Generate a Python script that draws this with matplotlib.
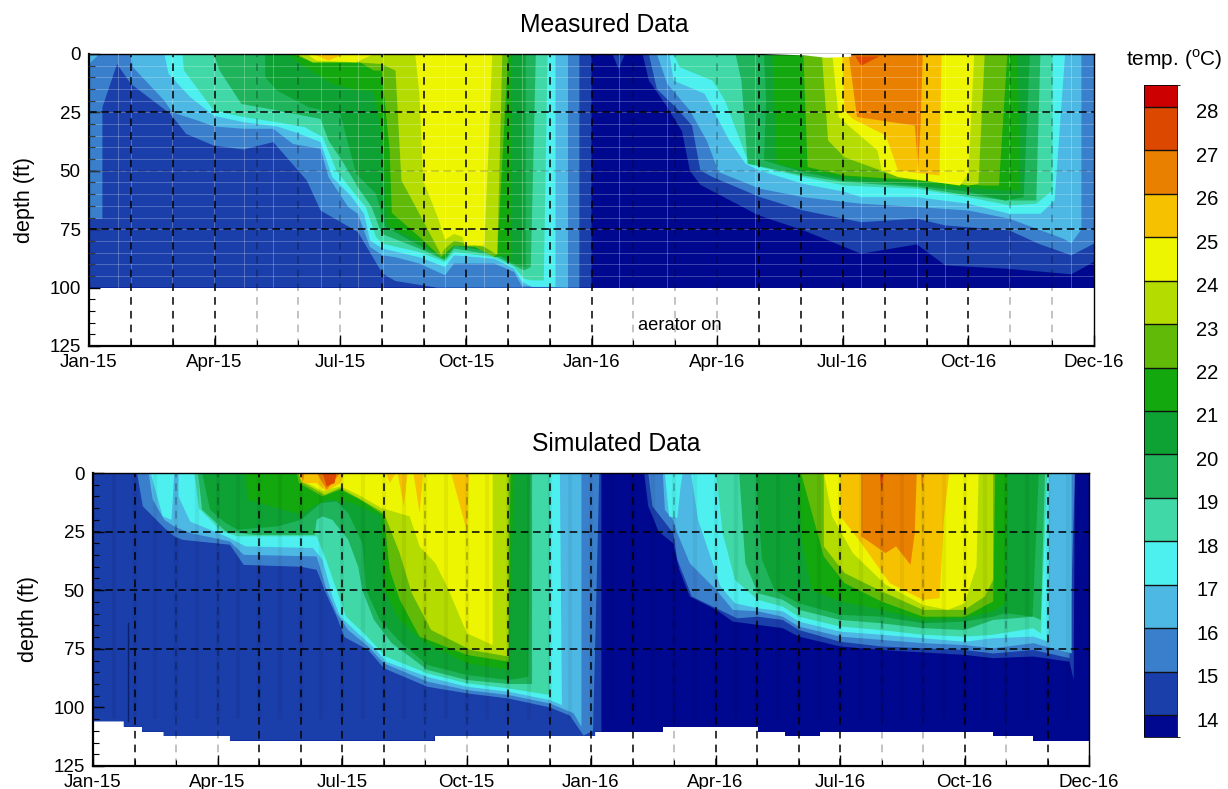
import numpy as np
import matplotlib
matplotlib.use("Agg")
import matplotlib.pyplot as plt
from matplotlib.colors import ListedColormap, BoundaryNorm
from matplotlib.cm import ScalarMappable
from matplotlib.ticker import MultipleLocator
from matplotlib.transforms import ScaledTranslation

plt.rcParams['font.family'] = ['Liberation Sans', 'DejaVu Sans']
plt.rcParams['mathtext.fontset'] = 'custom'
plt.rcParams['mathtext.rm'] = 'Liberation Sans'

tick_pos = [0, 3, 6, 9, 12, 15, 18, 21, 24]
tick_labels = ['Jan-15', 'Apr-15', 'Jul-15', 'Oct-15', 'Jan-16', 'Apr-16', 'Jul-16', 'Oct-16', 'Dec-16']
levels = list(range(14, 29))
band_colors = ['#00088f', '#1a3eaa', '#3a7fcc', '#4db8e4', '#4df0ee', '#3fd8a6', '#1fb35c', '#0ea235',
               '#12a80e', '#62ba08', '#b4dc00', '#eef500', '#f6c200', '#ea8000', '#dd4800', '#cc0000']

# isotherm outlines: time in months since Jan-15, depth in ft
m14_t = [0, 0, 12, 12, 12.5, 12.65, 12.8, 13.22, 13.37, 13.76, 14.16, 14.35, 14.6, 15.98, 17.06, 18.44, 19.77, 20.45, 21.98, 23.46, 24, 24]
m14_d = [0, 100, 100, 0, 0, 6.5, 0, 0, 11.4, 21.4, 33, 50, 56, 69, 75.5, 85.5, 81.5, 90.5, 92, 94.3, 89, 0]
m15_t = [0, 0, .32, .32, .67, 1, 1.94, 2.32, 2.98, 3.69, 4.4, 5.2, 5.53, 6.42, 7.01, 7.32, 8.31, 11.71, 11.71,
         13.37, 13.56, 14.01, 14.4, 14.6, 14.89, 16.03, 17.06, 18.44, 19.77, 20.45, 21.98, 22.67, 23.46, 24, 24]
m15_d = [0, 70.5, 70.5, 22.8, 4.3, 12.8, 25.6, 34.2, 39.2, 40.9, 37.7, 54.1, 67, 76.2, 94, 97.2, 100, 100, 0,
         0, 15, 22.8, 30.6, 49.9, 52.7, 61.3, 67, 72, 70.5, 73.4, 75.5, 81.2, 86.2, 81.2, 0]
m16_t = [0, 0, .25, 1, 1.05, 1.8, 1.99, 2.6, 2.98, 3.69, 4.4, 4.87, 5.53, 5.72, 6.19, 6.42, 6.71, 7.01, 7.32, 7.89, 8.5, 8.72, 9.68, 10.15, 10.34, 11.44, 11.44,
         13.56, 13.81, 14.35, 14.75, 15.04, 16.03, 17.06, 18.44, 19.77, 21, 21.98, 23.26, 23.46, 23.7, 23.7]
m16_d = [0, 4.3, 0, 0, 5.7, 20, 25, 28.5, 31, 32, 32, 38.5, 40.6, 52.7, 65.5, 68.4, 82.6, 86.2, 87, 89.7, 94.7, 89.7, 89.7, 93.3, 99.4, 100, 0,
         0, 12.8, 24.2, 37, 50.6, 57.7, 61.3, 64.1, 65.5, 67, 70.5, 79, 81, 75, 0]
m17_t = [1.8, 1.9, 2.42, 2.98, 3.69, 4.49, 4.92, 5.53, 5.81, 6.24, 6.57, 6.71, 7.01, 7.89, 8.5, 8.72, 9.68, 10.15, 10.34, 10.58, 11.14, 11.14,
         13.86, 13.96, 14.7, 15.29, 15.68, 16.03, 17.06, 18.04, 18.44, 19.77, 21, 21.98, 22.72, 23.06, 23.31]
m17_d = [0, 8.5, 18.5, 26.4, 29.2, 31, 33.5, 37.7, 52.7, 60.5, 68.4, 79.8, 83.3, 87, 91.2, 86.2, 87.6, 91.9, 97.6, 99.7, 99.7, 0,
         0, 11.4, 17, 37, 47, 50, 55.6, 59, 61.3, 61.3, 64.1, 68.4, 68.4, 62.7, 0]
m18_t = [2.23, 2.27, 2.98, 3.69, 4.49, 5.15, 5.58, 5.91, 6.28, 6.61, 6.85, 7.01, 7.89, 8.5, 8.72, 9.68, 10.15, 10.39, 10.58, 10.86, 10.95,
         13.96, 14.11, 14.89, 15.19, 15.73, 16.03, 17.06, 18.04, 19.77, 21, 21.98, 22.62, 23.01, 23.01]
m18_d = [0, 7.1, 24.2, 27, 29.2, 31.3, 35.6, 49.9, 58.4, 65.5, 78.3, 81.2, 84.8, 89, 84.8, 87, 91.2, 96.2, 96.9, 96.9, 0,
         0, 5.7, 11.4, 20, 45.6, 48.4, 52.7, 56.3, 57.7, 61.3, 64.8, 64.1, 58.4, 0]
m19_t = [2.98, 3.12, 3.64, 4.3, 5.53, 5.72, 6.09, 6.42, 6.75, 6.99, 7.89, 8.5, 8.72, 9.68, 10.15, 10.39, 10.55, 10.67,
         15.44, 15.58, 15.73, 17.06, 18.04, 19.77, 21, 21.88, 22.62, 22.72]
m19_d = [0, 7.1, 21.4, 23.5, 27.8, 37, 47, 57, 65.5, 77, 83.3, 88.3, 83.3, 86.2, 90.5, 92.6, 91.2, 0,
         0, 11.4, 47, 52, 54.8, 57, 60.5, 62.7, 62.7, 0]
m20_t = [4.21, 4.21, 4.49, 5.25, 6, 6.19, 6.38, 6.85, 7.08, 7.89, 8.5, 8.72, 9.68, 10.15, 10.43, 10.43,
         16.12, 16.17, 16.12, 17.06, 18.04, 19.77, 21, 21.88, 22.32, 22.47]
m20_d = [0, 10, 15.7, 22.8, 25.6, 38.5, 51.3, 59.8, 74, 82, 87.6, 82, 85, 90, 91.2, 0,
         0, 20, 45.6, 50.6, 54.1, 56.3, 59, 62.7, 61.3, 0]
m21_t = [4.77, 5.06, 5.81, 6.42, 6.8, 6.99, 7.08, 7.13, 7.89, 8.45, 8.72, 9.44, 9.68, 10.01, 10.1, 10.1,
         16.32, 16.42, 17.06, 18.04, 19.77, 20.36, 21.78, 22.23, 22.18]
m21_d = [0, 4.3, 12.8, 15.7, 15.7, 34.2, 61, 73.4, 80.5, 87.6, 82, 82.6, 87, 86, 90, 0,
         0, 47, 49.9, 52.7, 54.8, 56.3, 58.4, 58.4, 0]
m22_t = [4.87, 5.34, 6.42, 6.8, 6.99, 7.18, 7.23, 7.89, 8.41, 8.72, 9.21, 9.68, 9.75, 10.01,
         17.06, 17.16, 18.04, 19.77, 21.34, 21.73, 21.93]
m22_d = [0, 3.6, 3, 7.1, 7.1, 41.3, 68, 78.3, 87, 82, 82.6, 87, 85, 0,
         0, 48.4, 52, 54.1, 56.3, 56.3, 0]
m23_t = [4.96, 5.34, 6.42, 6.99, 7.32, 7.46, 7.89, 8.41, 8.5, 8.72, 9.44, 9.75, 9.87,
         17.5, 17.65, 18.04, 18.93, 21, 21.24, 21.39]
m23_d = [0, 3.6, 3.6, 4.3, 7.1, 54.1, 68.4, 86, 83.3, 80, 82.6, 86, 0,
         0, 37, 44.2, 50, 56.3, 55.6, 0]
m24_t = [5.2, 5.43, 6.38, 6.8, 7.79, 7.89, 7.98, 8.34, 8.5, 8.72, 8.92, 8.97, 9.44, 9.54, 9.63,
         17.75, 17.9, 18.83, 18.93, 19.32, 20.8, 21, 21.14]
m24_d = [0, 2.8, 3.6, 0, 0, 17, 54.1, 70.5, 79.5, 77, 78.3, 82, 82, 41.3, 0,
         0, 27, 41.3, 49.9, 52.7, 56.3, 51.3, 0]
m25_t = [5.34, 5.72, 6.09, 17.99, 18.04, 18.24, 19.03, 19.32, 20.31, 20.36]
m25_d = [0, 2.8, 0, 0, 24.2, 27.8, 34.9, 49.9, 52, 0]
m26_t = [18.14, 18.34, 19.72, 19.8, 19.86, 19.91]
m26_d = [0, 27, 30.6, 48.4, 30, 0]
m27_t = [18.3, 18.44, 18.88]
m27_d = [1, 5, 1]
notch_t = [16.1, 17.1, 17.6, 18.2, 18.2]
notch_d = [0, .6, 1.6, 1.2, 0]

s_bottom_t = [0, .74, .74, 1.18, 1.18, 1.7, 1.7, 3.3, 3.3, 8.23, 8.23, 12.1, 12.1, 13.73, 13.73, 16.02, 16.02, 16.67, 16.67, 17.51, 17.51, 21.69, 21.69, 22.66, 22.66, 24]
s_bottom_d = [106, 106, 108.3, 108.3, 110.4, 110.4, 112.2, 112.2, 114.2, 114.2, 112.2, 112.2, 110.4, 110.4, 108.3, 108.3, 110.4, 110.4, 112.2, 112.2, 110.4, 110.4, 112.2, 112.2, 114.2, 114.2]
s14_t = [0, 0, .74, .74, 1.18, 1.18, 1.7, 1.7, 3.3, 3.3, 8.23, 8.23, 12.1, 12.1, 12.25, 12.25,
         13.28, 13.38, 13.63, 13.98, 14.13, 14.38, 15.02, 15.42, 16.02, 16.62, 17.01, 18.01, 19, 21, 21.69, 22.66, 23.53, 23.63, 23.66]
s14_d = [0, 106, 106, 108.3, 108.3, 110.4, 110.4, 112.2, 112.2, 114.2, 114.2, 112.2, 112.2, 110.4, 110.4, 0,
         0, 14.2, 25, 30, 41.3, 52.7, 58.4, 63.4, 64.8, 66.2, 69.8, 74, 75.5, 77.6, 79, 78.3, 80.5, 88.3, 0]
s15_t = [1.06, 1.2, 1.72, 1.96, 2.15, 3.3, 3.63, 5.01, 5.39, 5.58, 5.87, 6.06, 6.63, 7.01, 8.06, 9.01, 10.01, 11.01, 11.49, 11.82, 12.05, 12.2,
         13.38, 13.48, 13.98, 14.08, 14.43, 15.02, 15.52, 16.02, 16.62, 17.01, 18.01, 19, 21, 21.69, 22.66, 23.53, 23.66]
s15_d = [0, 14.2, 23.5, 27, 28.5, 30.6, 39.2, 40, 41.3, 50, 61.3, 70, 75.5, 83.3, 91.2, 94, 96.2, 100, 103.5, 112, 110, 0,
         0, 14.2, 25.6, 37, 52.7, 57.7, 62, 61.3, 62.7, 67, 72, 74, 75.5, 77, 75.5, 79, 0]
s16_t = [1.34, 1.44, 1.72, 1.96, 2.34, 3.3, 3.63, 5.39, 5.63, 5.87, 6.15, 6.63, 7.01, 8.06, 9.01, 10.01, 11.01, 11.58, 11.77, 11.77,
         13.73, 13.78, 13.98, 14.08, 14.38, 15.02, 15.42, 16.02, 16.62, 17.01, 18.01, 19, 20, 21, 21.69, 22.66, 23.58, 23.58]
s16_d = [0, 11.4, 20, 22.8, 25.6, 29.2, 34.9, 35.6, 49.9, 59.8, 67, 74, 81.2, 89, 92.6, 94.7, 98.3, 102.5, 108.3, 0,
         0, 15.7, 20, 25.6, 38.5, 49.9, 58.4, 59, 61.3, 65.5, 69.8, 71.2, 72.6, 73.4, 74.8, 72.6, 77, 0]
s17_t = [1.39, 1.68, 1.89, 1.96, 2.06, 2.06, 2.34, 3.2, 3.68, 5.3, 5.53, 5.77, 5.96, 6.34, 6.82, 7.06, 8.06, 9.01, 10.01, 11.01, 11.3, 11.25,
         13.78, 13.88, 14.08, 14.16, 14.21, 14.41, 14.58, 15.12, 15.47, 16.02, 16.62, 17.01, 18.01, 19, 20, 21, 21.69, 22.66, 23.03, 23.03]
s17_d = [0, 18.5, 20, 0, 0, 10, 20.7, 27, 31.3, 32, 37, 52.7, 61.3, 67.7, 75.5, 80.5, 87, 91.2, 93.3, 96.9, 99, 0,
         0, 18.5, 19.2, 5.7, 0, 0, 20, 48.4, 55.6, 57.7, 59, 63.4, 67.7, 69, 70.5, 72, 70.5, 69.8, 72, 0]
s18_t = [2.44, 2.55, 3.1, 3.49, 5.39, 5.63, 5.87, 6.1, 6.53, 7.06, 8.06, 9.01, 10.01, 11.01, 11.01,
         15.02, 15.17, 15.47, 16.02, 16.62, 17.01, 18.01, 19, 20, 21, 21.69, 22.66, 22.84, 22.99]
s18_d = [0, 15, 24.9, 27, 27, 37.7, 49.9, 61.3, 68.4, 78.3, 85.5, 89.7, 91.9, 94.7, 0,
         0, 25.6, 45.6, 54.1, 57, 61.3, 65.5, 67, 69, 69.8, 69, 66.2, 68.4, 0]
s19_t = [2.53, 2.63, 3.2, 3.87, 4.91, 5.34, 5.39, 5.53, 5.77, 6.15, 6.39, 6.49, 6.77, 7.2, 8.06, 9.01, 10.01, 10.58, 10.58,
         15.57, 15.72, 16.02, 16.62, 17.01, 18.01, 19, 20, 21, 21.69, 22.66, 22.84, 22.94]
s19_d = [0, 15.7, 24.9, 26.4, 26.4, 26.4, 20, 18.5, 20, 28.5, 40, 49.9, 62.7, 72.6, 84, 88.3, 90, 90, 0,
         0, 38.5, 51.3, 54.1, 58.4, 62.7, 64.1, 66.2, 67, 62.7, 61.3, 62.7, 0]
s20_t = [2.63, 2.82, 3.2, 3.49, 4.44, 5.01, 5.49, 5.87, 6.15, 6.49, 6.58, 6.91, 7.39, 8.06, 9.01, 10.01, 10.49, 10.53,
         15.97, 16.12, 16.42, 17.01, 18.01, 19, 20, 21, 21.69, 21.99, 22.64, 22.79]
s20_d = [0, 15.7, 21.4, 24.2, 22.8, 20, 12.8, 12.1, 17.1, 29.9, 49.9, 62.7, 71.9, 81.9, 86.2, 88.3, 87, 0,
         0, 37, 49.9, 55.6, 60.5, 61.3, 64.1, 63.4, 61.3, 59.8, 61.3, 0]
s21_t = [3.68, 3.72, 5.01, 5.39, 5.68, 6.25, 6.96, 7.01, 7.39, 7.96, 9.01, 10.01, 10.15,
         17.01, 17.06, 17.31, 18.01, 19, 20, 21, 21.69, 21.99, 22.04]
s21_d = [0, 11.4, 17.8, 13.5, 11.4, 12.8, 18.5, 49.9, 62.7, 71.9, 81.2, 84, 0,
         0, 27, 49.9, 54.8, 58.4, 62.7, 61.8, 59, 55.6, 0]
s22_t = [4.91, 4.96, 5.53, 5.96, 6.44, 7.01, 7.15, 7.39, 7.87, 9.01, 10.01, 10.06,
         17.06, 17.61, 18.11, 19, 20, 21, 21.69, 21.74]
s22_d = [0, 4.3, 10, 7.1, 11.4, 18, 41.3, 54, 69.8, 77.6, 80.5, 0,
         0, 35.6, 47, 54.8, 61.3, 61.3, 54.8, 0]
s23_t = [4.96, 5.01, 5.58, 5.96, 6.39, 7.01, 7.39, 7.68, 8.15, 9.1, 10.01, 10.01,
         17.61, 17.61, 18.11, 19.1, 20, 21, 21.49, 21.69, 21.69]
s23_d = [0, 3.6, 9.3, 6.4, 10.7, 17, 34.2, 51.3, 67, 75.5, 78.3, 0,
         0, 31.3, 42.7, 51.3, 58.4, 58.4, 52.7, 45.6, 0]
s24_t = [4.96, 5.01, 5.53, 5.96, 6.39, 6.96, 7.63, 7.87, 8.25, 8.53, 9.01, 9.63, 9.63,
         17.61, 17.81, 18.31, 19.1, 20, 20.6, 21, 21.29, 21.34]
s24_d = [0, 2.8, 7.8, 5.7, 9.3, 15, 18.5, 31.3, 38.5, 48.4, 68.4, 73.4, 0,
         0, 18.5, 34.2, 47.7, 56.3, 58.4, 55.6, 39.9, 0]
s25_t = [4.98, 5.06, 5.39, 5.63, 5.96, 6.06, 7.06, 7.15, 7.3, 7.34, 7.49, 7.58, 7.72, 7.87, 7.96, 8.63, 9.01, 9.06,
         18.01, 18.01, 18.51, 19.2, 20, 20.4, 20.5, 20.63]
s25_d = [0, 4.3, 4.3, 7.8, 4.3, 0, 0, 4.3, 0, 0, 14.2, 0, 0, 17, 0, 0, 24.9, 0,
         0, 18.5, 29.9, 47, 54.1, 53.4, 20, 0]
s26_t = [5.01, 5.06, 5.1, 5.39, 5.63, 5.96,
         18.51, 18.51, 19.1, 19.35, 19.7, 19.8, 19.85, 19.95, 19.98, 20.02]
s26_d = [0, 3.6, 0, 0, 7.1, 0,
         0, 27, 34.2, 31.3, 39.2, 25.6, 0, 0, 7.8, 0]
s27_t = [5.53, 5.63, 5.82, 5.87, 18.96, 19, 19.05]
s27_d = [0, 5.7, 4.3, 0, 0, 8.5, 0]
s_needle_t = [.84, .84]
s_needle_d = [64, 106]

measured = [(m14_t, m14_d), (m15_t, m15_d), (m16_t, m16_d), (m17_t, m17_d), (m18_t, m18_d), (m19_t, m19_d), (m20_t, m20_d),
            (m21_t, m21_d), (m22_t, m22_d), (m23_t, m23_d), (m24_t, m24_d), (m25_t, m25_d), (m26_t, m26_d), (m27_t, m27_d)]
simulated = [(s14_t, s14_d), (s15_t, s15_d), (s16_t, s16_d), (s17_t, s17_d), (s18_t, s18_d), (s19_t, s19_d), (s20_t, s20_d),
             (s21_t, s21_d), (s22_t, s22_d), (s23_t, s23_d), (s24_t, s24_d), (s25_t, s25_d), (s26_t, s26_d), (s27_t, s27_d)]

# months whose dashed line looks washed out in the original
m_faint = [4, 5, 6, 13, 14, 15, 22, 23]
s_faint = [2, 3, 8, 9, 14, 19, 20, 22]
m_sample_t = [.7, 1, 1.99, 2.98, 3.69, 4.4, 5.53, 6.42, 7.01, 8.5, 9.44, 10.34, 12.65, 13.8, 15.9, 18.44, 19.77, 20.45, 21.98, 23.46]


def axes_px(left, top, right, bottom):
    return [left / 1228, 1 - bottom / 789, (right - left) / 1228, (bottom - top) / 789]


def style_axes(ax, faint, faint_y=()):
    ax.set_xlim(0, 24)
    ax.set_ylim(125, 0)
    for m in range(1, 24):
        ax.axvline(m, color='k', lw=1.1, ls=(0, (5, 4)), alpha=.3 if m in faint else 1, zorder=5)
    for d in [25, 50, 75]:
        ax.axhline(d, color='k', lw=1.1, ls=(0, (5, 3)), alpha=.2 if d in faint_y else 1, zorder=5)
    ax.set_xticks(tick_pos)
    ax.set_xticklabels(tick_labels)
    ax.xaxis.set_minor_locator(MultipleLocator(1))
    ax.yaxis.set_major_locator(MultipleLocator(25))
    ax.yaxis.set_minor_locator(MultipleLocator(5))
    ax.tick_params(which='major', direction='in', length=8, width=1, labelsize=13.5, pad=6, top=False, right=False)
    ax.tick_params(which='minor', direction='in', length=4, width=.8, top=False, right=False)
    ax.set_ylabel('depth (ft)', fontsize=15.5, labelpad=10)
    for side in ax.spines.values():
        side.set_linewidth(1.6)
    ax.spines['top'].set_linewidth(1)
    ax.spines['right'].set_linewidth(1)


fig = plt.figure(figsize=(12.28, 7.89), dpi=100)
ax1 = fig.add_axes(axes_px(89, 54, 1094, 346))
ax2 = fig.add_axes(axes_px(93, 473, 1089, 766))
cax = fig.add_axes(axes_px(1144, 85, 1177, 737))

# painted coldest first, each warmer outline on top of the last
ax1.fill_between([0, 24], 0, 100, color=band_colors[0], lw=0)
for i, (t, d) in enumerate(measured):
    ax1.fill(t, d, color=band_colors[i + 1], lw=0)
ax1.fill(notch_t, notch_d, color='white', lw=0, zorder=3)
for t in m_sample_t:
    ax1.plot([t, t], [0, 100], color='white', lw=.6, alpha=.3, zorder=3)
for d in np.arange(5, 100, 5):
    ax1.plot([0, 24], [d, d], color='white', lw=.6, alpha=.28, zorder=3)
ax1.text(14.1, 116.3, 'aerator on', fontsize=13.2, ha='center', va='center')
style_axes(ax1, m_faint, faint_y=[50])

ax2.fill_between(s_bottom_t, 0, s_bottom_d, color=band_colors[0], lw=0)
for i, (t, d) in enumerate(simulated):
    ax2.fill(t, d, color=band_colors[i + 1], lw=0)
ax2.plot(s_needle_t, s_needle_d, color='#0a1f70', lw=1, zorder=3)
# the model output shows faint vertical banding from its time steps
ax2.vlines(np.arange(.5, 24, .5), 0, 105, color='k', lw=3, alpha=.05, zorder=3)
style_axes(ax2, s_faint)

fig.text(604 / 1228, 1 - 25 / 789, 'Measured Data', fontsize=17.8, ha='center', va='center')
fig.text(616 / 1228, 1 - 444 / 789, 'Simulated Data', fontsize=17.8, ha='center', va='center')

bounds = [13.5] + levels + [28.5]
cmap = ListedColormap(band_colors)
norm = BoundaryNorm(bounds, cmap.N)
cb = fig.colorbar(ScalarMappable(norm=norm, cmap=cmap), cax=cax, boundaries=bounds, spacing='proportional',
                  ticks=levels, drawedges=True)
cb.dividers.set_color('#111111')
cb.dividers.set_linewidth(1)
cb.outline.set_linewidth(.6)
cax.tick_params(length=0, labelsize=14.5, pad=14)
shift = ScaledTranslation(0, -4 / 100, fig.dpi_scale_trans)
for lab in cax.get_yticklabels():
    lab.set_transform(lab.get_transform() + shift)
fig.text(1174 / 1228, 1 - 60 / 789, r'temp. ($^{\mathrm{o}}$C)', fontsize=15, ha='center', va='center')

fig.savefig('out.png', dpi=100)
